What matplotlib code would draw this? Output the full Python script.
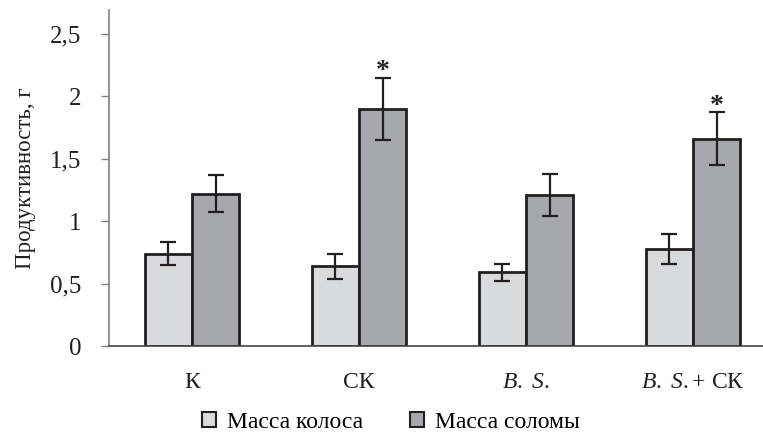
import matplotlib.pyplot as plt
from matplotlib.patches import Patch
import numpy as np

plt.rcParams["font.family"] = ["Liberation Serif", "DejaVu Serif"]
plt.rcParams["mathtext.fontset"] = "custom"
plt.rcParams["mathtext.rm"] = "Liberation Serif"
plt.rcParams["mathtext.it"] = "Liberation Serif:italic"

# Productivity per treatment, g
groups = ["К", "СК", r"$\mathit{B.}$ $\mathit{S.}$",
          r"$\mathit{B.}$ $\mathit{S.}$+ СК"]
ear_mass = [0.74, 0.64, 0.59, 0.78]
ear_err = [0.09, 0.10, 0.07, 0.12]
straw_mass = [1.22, 1.90, 1.21, 1.66]
straw_err = [0.15, 0.25, 0.17, 0.21]
significant = [False, True, False, True]
series_names = ["Масса колоса", "Масса соломы"]

light = "#d9dadc"
dark = "#a7a8ab"
ink = "#231f20"

fig = plt.figure(figsize=(7.63, 4.37), dpi=100)
ax = fig.add_axes([0.143, 0.208, 0.857, 0.769])

x = np.arange(len(groups))
w = 0.283
err_kw = dict(ecolor=ink, elinewidth=1.6, capsize=5.5, capthick=1.6)
ax.bar(x - w / 2, ear_mass, w, yerr=ear_err, color=light,
       edgecolor=ink, linewidth=2, error_kw=err_kw)
ax.bar(x + w / 2, straw_mass, w, yerr=straw_err, color=dark,
       edgecolor=ink, linewidth=2, error_kw=err_kw)

# Asterisks over significant differences
for i, flag in enumerate(significant):
    if flag:
        ax.text(x[i] + w / 2, straw_mass[i] + straw_err[i] - 0.05, "*",
                ha="center", va="bottom", fontsize=20, color=ink,
                fontweight="bold")

ax.set_xlim(-0.497, 3.42)
ax.set_ylim(0, 2.69)
ax.set_yticks([0, 0.5, 1, 1.5, 2, 2.5])
ax.set_yticklabels(["0", "0,5", "1", "1,5", "2", "2,5"])
ax.set_xticks(x)
ax.set_xticklabels(groups)
ax.tick_params(axis="y", length=6, width=1, color="#808080", pad=14,
               labelsize=18, labelcolor=ink)
ax.tick_params(axis="x", length=0, pad=19, labelsize=17, labelcolor=ink)

for side in ["top", "right"]:
    ax.spines[side].set_visible(False)
ax.spines["left"].set_color("#808080")
ax.spines["left"].set_linewidth(1.2)
ax.spines["bottom"].set_color("#444444")
ax.spines["bottom"].set_linewidth(1.2)

ax.set_ylabel("Продуктивность, г", fontsize=16.5, color=ink, labelpad=10)

handles = [Patch(facecolor=light, edgecolor=ink, linewidth=1.5),
           Patch(facecolor=dark, edgecolor=ink, linewidth=1.5)]
fig.legend(handles, series_names, loc="center", bbox_to_anchor=(0.512, 0.033),
           ncol=2, frameon=False, fontsize=17, handlelength=0.6,
           handleheight=0.6, handletextpad=0.45, columnspacing=2.0)

fig.savefig("out.png", dpi=100)
